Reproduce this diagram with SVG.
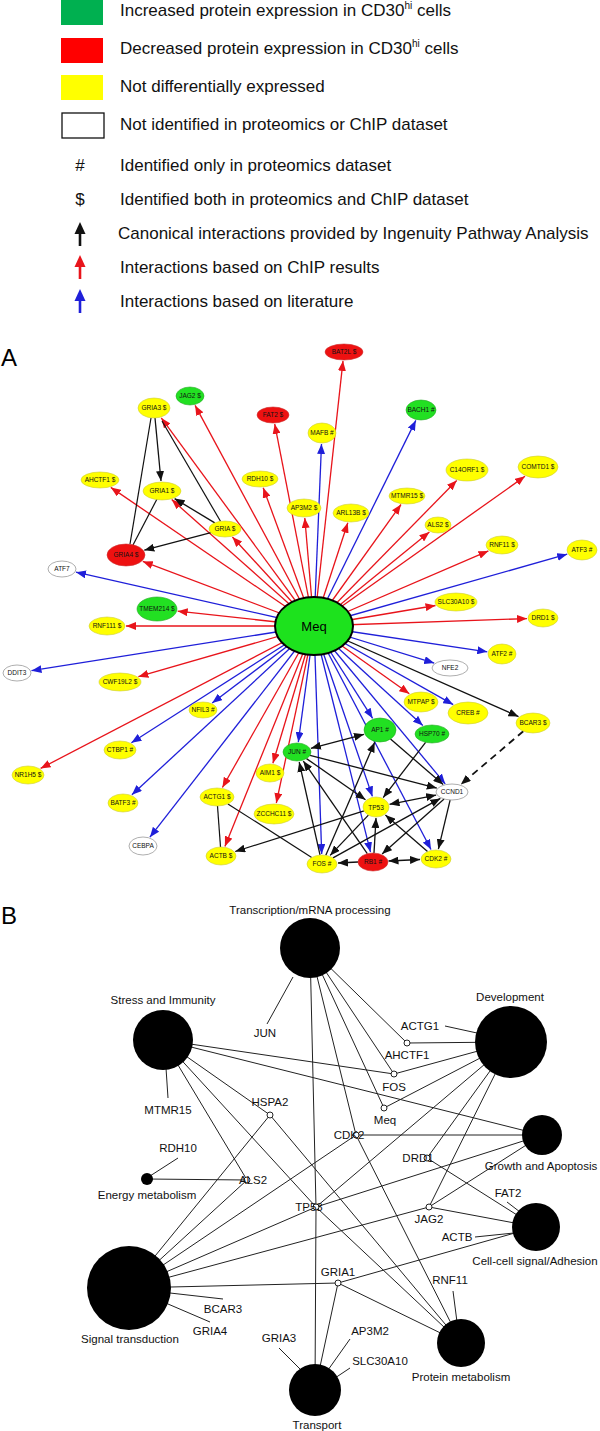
<svg xmlns="http://www.w3.org/2000/svg" width="600" height="1431" viewBox="0 0 600 1431">
<style>
.lg{font-family:"Liberation Sans",Arial,sans-serif;font-size:17px;fill:#111}
.r{stroke:#e8141b;stroke-width:1.3;fill:none;marker-end:url(#ar)}
.b{stroke:#1f1fd9;stroke-width:1.3;fill:none;marker-end:url(#ab)}
.k{stroke:#111;stroke-width:1.3;fill:none;marker-end:url(#ak)}
.kk{stroke:#111;stroke-width:1.3;fill:none;marker-start:url(#aks);marker-end:url(#ak)}
.kn{stroke:#111;stroke-width:1.2;fill:none}
.kd{stroke:#111;stroke-width:1.8;fill:none;stroke-dasharray:7 5;marker-end:url(#ak)}
.t{font-family:"Liberation Sans",Arial,sans-serif;font-size:6.5px;text-anchor:middle;fill:#111}
.g{fill:#22e022;stroke:#2a2;stroke-width:0.6}
.y{fill:#ffff00;stroke:#cc3;stroke-width:0.6}
.rd{fill:#ee1111;stroke:#c33;stroke-width:0.6}
.w{fill:#fff;stroke:#999;stroke-width:0.8}
.pb{stroke:#222;stroke-width:1;fill:none}
.cat{fill:#000}
.gn{fill:#fff;stroke:#222;stroke-width:1}
.bl{font-family:"Liberation Sans",Arial,sans-serif;font-size:11.5px;fill:#111;text-anchor:middle}
.big{font-family:"Liberation Sans",Arial,sans-serif;font-size:24px;fill:#000}
</style>
<defs>
<marker id="ar" viewBox="0 0 10 8" refX="10" refY="4" markerWidth="10" markerHeight="8" markerUnits="userSpaceOnUse" orient="auto"><path d="M0,0 L10,4 L0,8 z" fill="#e8141b"/></marker>
<marker id="ab" viewBox="0 0 10 8" refX="10" refY="4" markerWidth="10" markerHeight="8" markerUnits="userSpaceOnUse" orient="auto"><path d="M0,0 L10,4 L0,8 z" fill="#1f1fd9"/></marker>
<marker id="ak" viewBox="0 0 10 8" refX="10" refY="4" markerWidth="10" markerHeight="8" markerUnits="userSpaceOnUse" orient="auto"><path d="M0,0 L10,4 L0,8 z" fill="#111"/></marker>
<marker id="aks" viewBox="0 0 10 8" refX="10" refY="4" markerWidth="10" markerHeight="8" markerUnits="userSpaceOnUse" orient="auto-start-reverse"><path d="M0,0 L10,4 L0,8 z" fill="#111"/></marker>
</defs>

<g id="legend">
<rect x="61" y="0" width="42" height="25" fill="#00b050"/>
<text class="lg" x="120" y="16">Increased protein expression in CD30<tspan font-size="10" dy="-7">hi</tspan><tspan dy="7"> cells</tspan></text>
<rect x="61" y="38" width="42" height="25" fill="#ff0000"/>
<text class="lg" x="120" y="54">Decreased protein expression in CD30<tspan font-size="10" dy="-7">hi</tspan><tspan dy="7"> cells</tspan></text>
<rect x="61" y="75" width="42" height="25" fill="#ffff00"/>
<text class="lg" x="120" y="92">Not differentially expressed</text>
<rect x="62" y="113" width="42" height="25" fill="#fff" stroke="#111" stroke-width="1.3"/>
<text class="lg" x="120" y="130">Not identified in proteomics or ChIP dataset</text>
<text class="lg" x="80" y="171" text-anchor="middle">#</text>
<text class="lg" x="120" y="171">Identified only in proteomics dataset</text>
<text class="lg" x="80" y="205" text-anchor="middle">$</text>
<text class="lg" x="120" y="205">Identified both in proteomics and ChIP dataset</text>
<line x1="80" y1="246" x2="80" y2="230" stroke="#111" stroke-width="2.6"/><path d="M74.5,234 L80,222 L85.5,234 z" fill="#111"/>
<text class="lg" x="118" y="239">Canonical interactions provided by Ingenuity Pathway Analysis</text>
<line x1="80" y1="279" x2="80" y2="263" stroke="#e8141b" stroke-width="2.6"/><path d="M74.5,267 L80,255 L85.5,267 z" fill="#e8141b"/>
<text class="lg" x="120" y="273">Interactions based on ChIP results</text>
<line x1="80" y1="313" x2="80" y2="297" stroke="#1f1fd9" stroke-width="2.6"/><path d="M74.5,301 L80,289 L85.5,301 z" fill="#1f1fd9"/>
<text class="lg" x="120" y="307">Interactions based on literature</text>
</g>

<text class="big" x="1" y="366">A</text>
<text class="big" x="1" y="924">B</text>

<g id="connectors">
<g id="connectors-a">
<line class="r" x1="314" y1="626" x2="343" y2="360.9"/>
<line class="r" x1="314" y1="626" x2="195.1" y2="405.4"/>
<line class="r" x1="314" y1="626" x2="161.3" y2="417.9"/>
<line class="r" x1="314" y1="626" x2="274.7" y2="423.9"/>
<line class="r" x1="314" y1="626" x2="110.8" y2="487.4"/>
<line class="r" x1="314" y1="626" x2="171.7" y2="499.6"/>
<line class="r" x1="314" y1="626" x2="263.2" y2="487.8"/>
<line class="r" x1="314" y1="626" x2="304.8" y2="518"/>
<line class="r" x1="314" y1="626" x2="347.8" y2="522.8"/>
<line class="r" x1="314" y1="626" x2="401" y2="504.5"/>
<line class="r" x1="314" y1="626" x2="456.7" y2="480.5"/>
<line class="r" x1="314" y1="626" x2="525" y2="476.3"/>
<line class="r" x1="314" y1="626" x2="429.4" y2="532"/>
<line class="r" x1="314" y1="626" x2="232.4" y2="537"/>
<line class="r" x1="314" y1="626" x2="488.4" y2="550.9"/>
<line class="r" x1="314" y1="626" x2="142.8" y2="561.4"/>
<line class="r" x1="314" y1="626" x2="435.5" y2="605.5"/>
<line class="r" x1="314" y1="626" x2="177.7" y2="611.2"/>
<line class="r" x1="314" y1="626" x2="126" y2="626"/>
<line class="r" x1="314" y1="626" x2="527" y2="618.6"/>
<line class="r" x1="314" y1="626" x2="138.4" y2="676.7"/>
<line class="r" x1="314" y1="626" x2="409.3" y2="693.7"/>
<line class="r" x1="314" y1="626" x2="40.6" y2="768.4"/>
<line class="r" x1="314" y1="626" x2="272.9" y2="763.2"/>
<line class="r" x1="314" y1="626" x2="222.4" y2="787.5"/>
<line class="r" x1="314" y1="626" x2="276.3" y2="803"/>
<line class="r" x1="314" y1="626" x2="224.9" y2="846.4"/>
<line class="b" x1="314" y1="626" x2="321.5" y2="444"/>
<line class="b" x1="314" y1="626" x2="415.8" y2="420.4"/>
<line class="b" x1="314" y1="626" x2="567.2" y2="554.2"/>
<line class="b" x1="314" y1="626" x2="76" y2="572.2"/>
<line class="b" x1="314" y1="626" x2="487.3" y2="651.8"/>
<line class="b" x1="314" y1="626" x2="434.2" y2="663.1"/>
<line class="b" x1="314" y1="626" x2="31.5" y2="670.7"/>
<line class="b" x1="314" y1="626" x2="212.2" y2="703"/>
<line class="b" x1="314" y1="626" x2="453.2" y2="704.6"/>
<line class="b" x1="314" y1="626" x2="372.6" y2="718.3"/>
<line class="b" x1="314" y1="626" x2="422.8" y2="725.5"/>
<line class="b" x1="314" y1="626" x2="298.3" y2="742.1"/>
<line class="b" x1="314" y1="626" x2="131.4" y2="742.7"/>
<line class="b" x1="314" y1="626" x2="131.9" y2="794.8"/>
<line class="b" x1="314" y1="626" x2="372.4" y2="796.4"/>
<line class="b" x1="314" y1="626" x2="445.2" y2="783.8"/>
<line class="b" x1="314" y1="626" x2="149.9" y2="837.2"/>
<line class="b" x1="314" y1="626" x2="321.7" y2="854"/>
<line class="b" x1="314" y1="626" x2="370.5" y2="852.1"/>
<line class="b" x1="314" y1="626" x2="431" y2="849.5"/>
<line class="k" x1="314" y1="626" x2="518.5" y2="716.6"/>
<line class="kd" x1="523.3" y1="731.2" x2="460.8" y2="784.5"/>
<line class="k" x1="155" y1="418" x2="161" y2="481"/>
<line class="kn" x1="151" y1="418" x2="130" y2="544"/>
<line class="kn" x1="157" y1="499" x2="133" y2="545"/>
<line class="k" x1="214.8" y1="522.9" x2="174.6" y2="498.6"/>
<line class="kn" x1="220.5" y1="521.3" x2="162" y2="421"/>
<line class="k" x1="210.9" y1="532.7" x2="144.3" y2="550.2"/>
<line class="kk" x1="310.9" y1="748.3" x2="364" y2="734.3"/>
<line class="k" x1="306.5" y1="758.6" x2="365.5" y2="799.7"/>
<line class="k" x1="310" y1="755.3" x2="436.8" y2="788.1"/>
<line class="k" x1="390.5" y1="739.1" x2="443.2" y2="784.4"/>
<line class="k" x1="425.6" y1="742.3" x2="383.2" y2="797.6"/>
<line class="kk" x1="389.5" y1="804.3" x2="436.1" y2="795.1"/>
<line class="k" x1="364" y1="810.8" x2="235.2" y2="851.5"/>
<line class="kn" x1="217.5" y1="806" x2="220.5" y2="847"/>
<line class="kn" x1="227.9" y1="803.9" x2="311.7" y2="857.4"/>
<line class="k" x1="320" y1="854.9" x2="299.2" y2="762"/>
<line class="k" x1="367.3" y1="853.7" x2="303.3" y2="761"/>
<line class="k" x1="325.8" y1="855.3" x2="374.7" y2="742.3"/>
<line class="k" x1="333" y1="857.9" x2="440.4" y2="798.4"/>
<line class="k" x1="358" y1="862" x2="338" y2="863"/>
<line class="kk" x1="388.5" y1="861" x2="420" y2="859.5"/>
<line class="k" x1="450.1" y1="800.1" x2="438.4" y2="849.1"/>
<line class="k" x1="444.1" y1="799" x2="382.1" y2="853.9"/>
<line class="k" x1="368.4" y1="815.1" x2="330.1" y2="855.4"/>
<line class="k" x1="427.5" y1="851.6" x2="385.4" y2="815.1"/>
<line class="k" x1="374" y1="853" x2="376" y2="818"/>
</g>
<g id="connectors-b">
<line class="pb" x1="407" y1="1043" x2="310" y2="948"/>
<line class="pb" x1="407" y1="1043" x2="511" y2="1042"/>
<line class="pb" x1="394" y1="1074" x2="310" y2="948"/>
<line class="pb" x1="394" y1="1074" x2="511" y2="1042"/>
<line class="pb" x1="394" y1="1074" x2="163" y2="1040"/>
<line class="pb" x1="384" y1="1108" x2="310" y2="948"/>
<line class="pb" x1="384" y1="1108" x2="511" y2="1042"/>
<line class="pb" x1="163" y1="1040" x2="542" y2="1135"/>
<line class="pb" x1="270" y1="1115" x2="163" y2="1040"/>
<line class="pb" x1="270" y1="1115" x2="129" y2="1288"/>
<line class="pb" x1="270" y1="1115" x2="461" y2="1343"/>
<line class="pb" x1="356" y1="1135" x2="310" y2="948"/>
<line class="pb" x1="356" y1="1135" x2="542" y2="1135"/>
<line class="pb" x1="356" y1="1135" x2="129" y2="1288"/>
<line class="pb" x1="356" y1="1135" x2="461" y2="1343"/>
<line class="pb" x1="427" y1="1158" x2="511" y2="1042"/>
<line class="pb" x1="427" y1="1158" x2="536" y2="1227"/>
<line class="pb" x1="247" y1="1180" x2="147" y2="1179"/>
<line class="pb" x1="247" y1="1180" x2="163" y2="1040"/>
<line class="pb" x1="247" y1="1180" x2="129" y2="1288"/>
<line class="pb" x1="316" y1="1207" x2="310" y2="948"/>
<line class="pb" x1="316" y1="1207" x2="163" y2="1040"/>
<line class="pb" x1="316" y1="1207" x2="511" y2="1042"/>
<line class="pb" x1="316" y1="1207" x2="542" y2="1135"/>
<line class="pb" x1="316" y1="1207" x2="129" y2="1288"/>
<line class="pb" x1="316" y1="1207" x2="461" y2="1343"/>
<line class="pb" x1="316" y1="1207" x2="315" y2="1390"/>
<line class="pb" x1="429" y1="1207" x2="511" y2="1042"/>
<line class="pb" x1="429" y1="1207" x2="542" y2="1135"/>
<line class="pb" x1="429" y1="1207" x2="536" y2="1227"/>
<line class="pb" x1="429" y1="1207" x2="129" y2="1288"/>
<line class="pb" x1="338" y1="1283" x2="129" y2="1288"/>
<line class="pb" x1="338" y1="1283" x2="536" y2="1227"/>
<line class="pb" x1="338" y1="1283" x2="461" y2="1343"/>
<line class="pb" x1="338" y1="1283" x2="315" y2="1390"/>
<line class="pb" x1="267" y1="1024" x2="293" y2="977"/>
<line class="pb" x1="168" y1="1098" x2="166" y2="1068"/>
<line class="pb" x1="445" y1="1026" x2="477" y2="1033"/>
<line class="pb" x1="178" y1="1158" x2="150" y2="1176"/>
<line class="pb" x1="170" y1="1293" x2="223" y2="1299"/>
<line class="pb" x1="168" y1="1304" x2="210" y2="1322"/>
<line class="pb" x1="279" y1="1348" x2="303" y2="1372"/>
<line class="pb" x1="350" y1="1339" x2="328" y2="1370"/>
<line class="pb" x1="350" y1="1368" x2="335" y2="1378"/>
<line class="pb" x1="453" y1="1291" x2="457" y2="1322"/>
<line class="pb" x1="507" y1="1202" x2="520" y2="1212"/>
<line class="pb" x1="475" y1="1237" x2="514" y2="1233"/>
</g>
</g>

<g id="nodes-a">
<g id="n-BAT2L"><ellipse class="rd" cx="344" cy="352" rx="19" ry="8"/><text class="t" x="344" y="354.3">BAT2L $</text></g>
<g id="n-JAG2"><ellipse class="g" cx="190" cy="396" rx="14" ry="9"/><text class="t" x="190" y="398.3">JAG2 $</text></g>
<g id="n-GRIA3"><ellipse class="y" cx="154" cy="408" rx="16" ry="10"/><text class="t" x="154" y="410.3">GRIA3 $</text></g>
<g id="n-FAT2"><ellipse class="rd" cx="273" cy="415" rx="16" ry="8"/><text class="t" x="273" y="417.3">FAT2 $</text></g>
<g id="n-MAFB"><ellipse class="y" cx="322" cy="433" rx="14" ry="10"/><text class="t" x="322" y="435.3">MAFB #</text></g>
<g id="n-BACH1"><ellipse class="g" cx="421" cy="410" rx="15" ry="10"/><text class="t" x="421" y="412.3">BACH1 #</text></g>
<g id="n-AHCTF1"><ellipse class="y" cx="100" cy="480" rx="19" ry="8"/><text class="t" x="100" y="482.3">AHCTF1 $</text></g>
<g id="n-GRIA1"><ellipse class="y" cx="162" cy="491" rx="19" ry="9"/><text class="t" x="162" y="493.3">GRIA1 $</text></g>
<g id="n-RDH10"><ellipse class="y" cx="260" cy="479" rx="18" ry="8"/><text class="t" x="260" y="481.3">RDH10 $</text></g>
<g id="n-AP3M2"><ellipse class="y" cx="304" cy="508" rx="17" ry="9"/><text class="t" x="304" y="510.3">AP3M2 $</text></g>
<g id="n-ARL13B"><ellipse class="y" cx="351" cy="513" rx="18" ry="9"/><text class="t" x="351" y="515.3">ARL13B $</text></g>
<g id="n-MTMR15"><ellipse class="y" cx="407" cy="496" rx="18" ry="8"/><text class="t" x="407" y="498.3">MTMR15 $</text></g>
<g id="n-C14ORF1"><ellipse class="y" cx="467" cy="470" rx="21" ry="11"/><text class="t" x="467" y="472.3">C14ORF1 $</text></g>
<g id="n-COMTD1"><ellipse class="y" cx="538" cy="467" rx="20" ry="11"/><text class="t" x="538" y="469.3">COMTD1 $</text></g>
<g id="n-ALS2"><ellipse class="y" cx="438" cy="525" rx="13" ry="8"/><text class="t" x="438" y="527.3">ALS2 $</text></g>
<g id="n-GRIA"><ellipse class="y" cx="225" cy="529" rx="16" ry="8"/><text class="t" x="225" y="531.3">GRIA $</text></g>
<g id="n-RNF11"><ellipse class="y" cx="502" cy="545" rx="16" ry="9"/><text class="t" x="502" y="547.3">RNF11 $</text></g>
<g id="n-ATF3"><ellipse class="y" cx="582" cy="550" rx="15" ry="10"/><text class="t" x="582" y="552.3">ATF3 #</text></g>
<g id="n-GRIA4"><ellipse class="rd" cx="126" cy="555" rx="19" ry="11"/><text class="t" x="126" y="557.3">GRIA4 $</text></g>
<g id="n-ATF7"><ellipse class="w" cx="62" cy="569" rx="14" ry="8"/><text class="t" x="62" y="571.3">ATF7</text></g>
<g id="n-SLC30A10"><ellipse class="y" cx="456" cy="602" rx="21" ry="9"/><text class="t" x="456" y="604.3">SLC30A10 $</text></g>
<g id="n-TMEM214"><ellipse class="g" cx="157" cy="609" rx="20" ry="12"/><text class="t" x="157" y="611.3">TMEM214 $</text></g>
<g id="n-RNF111"><ellipse class="y" cx="107" cy="626" rx="18" ry="9"/><text class="t" x="107" y="628.3">RNF111 $</text></g>
<g id="n-Meq"><ellipse cx="314" cy="626" rx="39" ry="29" fill="#1de21d" stroke="#000" stroke-width="2"/><text x="314" y="631" font-family="Liberation Sans,Arial,sans-serif" font-size="13" text-anchor="middle" fill="#000">Meq</text></g>
<g id="n-DRD1"><ellipse class="y" cx="543" cy="618" rx="15" ry="9"/><text class="t" x="543" y="620.3">DRD1 $</text></g>
<g id="n-ATF2"><ellipse class="y" cx="502" cy="654" rx="14" ry="10"/><text class="t" x="502" y="656.3">ATF2 #</text></g>
<g id="n-NFE2"><ellipse class="w" cx="450" cy="668" rx="18" ry="8"/><text class="t" x="450" y="670.3">NFE2</text></g>
<g id="n-DDIT3"><ellipse class="w" cx="17" cy="673" rx="14" ry="8"/><text class="t" x="17" y="675.3">DDIT3</text></g>
<g id="n-CWF19L2"><ellipse class="y" cx="120" cy="682" rx="21" ry="9"/><text class="t" x="120" y="684.3">CWF19L2 $</text></g>
<g id="n-NFIL3"><ellipse class="y" cx="203" cy="710" rx="14" ry="8"/><text class="t" x="203" y="712.3">NFIL3 #</text></g>
<g id="n-MTPAP"><ellipse class="y" cx="421" cy="702" rx="17" ry="10"/><text class="t" x="421" y="704.3">MTPAP $</text></g>
<g id="n-CREB"><ellipse class="y" cx="468" cy="713" rx="20" ry="11"/><text class="t" x="468" y="715.3">CREB  #</text></g>
<g id="n-BCAR3"><ellipse class="y" cx="533" cy="723" rx="17" ry="10"/><text class="t" x="533" y="725.3">BCAR3 $</text></g>
<g id="n-AP1"><ellipse class="g" cx="380" cy="730" rx="16" ry="12"/><text class="t" x="380" y="732.3">AP1 #</text></g>
<g id="n-HSP70"><ellipse class="g" cx="432" cy="734" rx="17" ry="9"/><text class="t" x="432" y="736.3">HSP70 #</text></g>
<g id="n-JUN"><ellipse class="g" cx="297" cy="752" rx="14" ry="9"/><text class="t" x="297" y="754.3">JUN #</text></g>
<g id="n-CTBP1"><ellipse class="y" cx="120" cy="750" rx="16" ry="9"/><text class="t" x="120" y="752.3">CTBP1 #</text></g>
<g id="n-NR1H5"><ellipse class="y" cx="28" cy="775" rx="16" ry="9"/><text class="t" x="28" y="777.3">NR1H5 $</text></g>
<g id="n-AIM1"><ellipse class="y" cx="270" cy="773" rx="14" ry="9"/><text class="t" x="270" y="775.3">AIM1 $</text></g>
<g id="n-ACTG1"><ellipse class="y" cx="217" cy="797" rx="17" ry="9"/><text class="t" x="217" y="799.3">ACTG1 $</text></g>
<g id="n-BATF3"><ellipse class="y" cx="123" cy="803" rx="15" ry="9"/><text class="t" x="123" y="805.3">BATF3 #</text></g>
<g id="n-ZCCHC11"><ellipse class="y" cx="274" cy="814" rx="20" ry="10"/><text class="t" x="274" y="816.3">ZCCHC11 $</text></g>
<g id="n-TP53"><ellipse class="y" cx="376" cy="807" rx="13" ry="10"/><text class="t" x="376" y="810" font-size="8.5">TP53</text></g>
<g id="n-CCND1"><ellipse class="w" cx="452" cy="792" rx="16" ry="8"/><text class="t" x="452" y="794.3">CCND1</text></g>
<g id="n-CEBPA"><ellipse class="w" cx="143" cy="846" rx="14" ry="9"/><text class="t" x="143" y="848.3">CEBPA</text></g>
<g id="n-ACTB"><ellipse class="y" cx="221" cy="856" rx="15" ry="9"/><text class="t" x="221" y="858.3">ACTB $</text></g>
<g id="n-FOS"><ellipse class="y" cx="322" cy="864" rx="15" ry="9"/><text class="t" x="322" y="866.3">FOS #</text></g>
<g id="n-RB1"><ellipse class="rd" cx="373" cy="862" rx="15" ry="9"/><text class="t" x="373" y="864.3">RB1 #</text></g>
<g id="n-CDK2"><ellipse class="y" cx="436" cy="859" rx="15" ry="9"/><text class="t" x="436" y="861.3">CDK2 #</text></g>
</g>

<g id="nodes-b">
<g id="c-transcription"><circle class="cat" cx="310" cy="948" r="30"/><text class="bl" x="310" y="914">Transcription/mRNA processing</text></g>
<g id="c-stress"><circle class="cat" cx="163" cy="1040" r="30"/><text class="bl" x="163" y="1004">Stress and Immunity</text></g>
<g id="c-development"><circle class="cat" cx="511" cy="1042" r="36"/><text class="bl" x="510" y="1001">Development</text></g>
<g id="c-growth"><circle class="cat" cx="542" cy="1135" r="20"/><text class="bl" x="541" y="1170">Growth and Apoptosis</text></g>
<g id="c-energy"><circle class="cat" cx="147" cy="1179" r="6"/><text class="bl" x="147" y="1199">Energy metabolism</text></g>
<g id="c-cellcell"><circle class="cat" cx="536" cy="1227" r="24"/><text class="bl" x="535" y="1265">Cell-cell signal/Adhesion</text></g>
<g id="c-signal"><circle class="cat" cx="129" cy="1288" r="42"/><text class="bl" x="130" y="1343">Signal transduction</text></g>
<g id="c-protein"><circle class="cat" cx="461" cy="1343" r="24"/><text class="bl" x="461" y="1381">Protein metabolism</text></g>
<g id="c-transport"><circle class="cat" cx="315" cy="1390" r="26"/><text class="bl" x="317" y="1429">Transport</text></g>
<g id="g-AHCTF1"><circle class="gn" cx="407" cy="1043" r="3"/><text class="bl" x="407" y="1059">AHCTF1</text></g>
<g id="g-FOS"><circle class="gn" cx="394" cy="1074" r="3"/><text class="bl" x="394" y="1091">FOS</text></g>
<g id="g-Meq"><circle class="gn" cx="384" cy="1108" r="3"/><text class="bl" x="385" y="1124">Meq</text></g>
<g id="g-HSPA2"><circle class="gn" cx="270" cy="1115" r="3"/><text class="bl" x="270" y="1106" text-anchor="start">HSPA2</text></g>
<g id="g-CDK2"><circle class="gn" cx="356" cy="1135" r="3"/><text class="bl" x="349" y="1139" text-anchor="end">CDK2</text></g>
<g id="g-DRD1"><circle class="gn" cx="427" cy="1158" r="3"/><text class="bl" x="418" y="1162" text-anchor="end">DRD1</text></g>
<g id="g-ALS2"><circle class="gn" cx="247" cy="1180" r="3"/><text class="bl" x="253" y="1184" text-anchor="start">ALS2</text></g>
<g id="g-TP53"><circle class="gn" cx="316" cy="1207" r="3"/><text class="bl" x="309" y="1211" text-anchor="end">TP53</text></g>
<g id="g-JAG2"><circle class="gn" cx="429" cy="1207" r="3"/><text class="bl" x="429" y="1223">JAG2</text></g>
<g id="g-GRIA1"><circle class="gn" cx="338" cy="1283" r="3"/><text class="bl" x="338" y="1276">GRIA1</text></g>
<g id="l-JUN"><text class="bl" x="265" y="1037">JUN</text></g>
<g id="l-MTMR15"><text class="bl" x="168" y="1114">MTMR15</text></g>
<g id="l-ACTG1"><text class="bl" x="420" y="1030">ACTG1</text></g>
<g id="l-RDH10"><text class="bl" x="178" y="1152">RDH10</text></g>
<g id="l-BCAR3"><text class="bl" x="223" y="1313">BCAR3</text></g>
<g id="l-GRIA4"><text class="bl" x="210" y="1335">GRIA4</text></g>
<g id="l-GRIA3"><text class="bl" x="279" y="1342">GRIA3</text></g>
<g id="l-AP3M2"><text class="bl" x="370" y="1335">AP3M2</text></g>
<g id="l-SLC30A10"><text class="bl" x="380" y="1365">SLC30A10</text></g>
<g id="l-RNF11"><text class="bl" x="450" y="1284">RNF11</text></g>
<g id="l-FAT2"><text class="bl" x="508" y="1197">FAT2</text></g>
<g id="l-ACTB"><text class="bl" x="457" y="1241">ACTB</text></g>
</g>
</svg>
